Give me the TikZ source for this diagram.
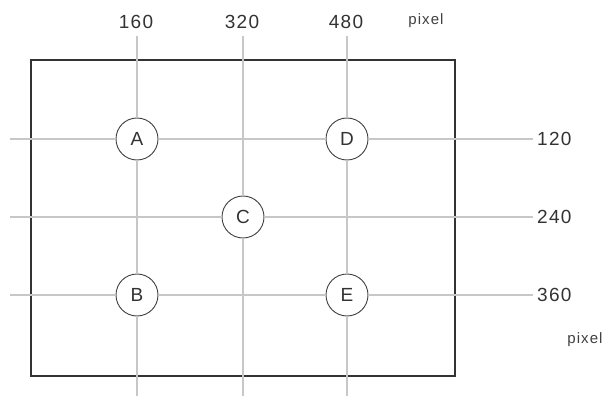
\documentclass[tikz,border=0pt]{standalone}
\usepackage{fontspec}
\setmainfont{Liberation Sans}[LetterSpace=7]
\usetikzlibrary{positioning}
\tikzset{
  grid/.style={draw=black!22, line width=1.6pt},
  spot/.style={circle, draw=black!75, line width=0.9pt, fill=white, minimum size=42pt, inner sep=0pt, text=black!80, font=\fontsize{19}{22}\selectfont},
  tick/.style={inner xsep=4pt, inner ysep=7pt, text=black!80, font=\fontsize{19}{22}\selectfont},
  unit/.style={inner sep=0pt, text=black!75, font=\fontsize{15}{18}\selectfont}
}
\begin{document}
\begin{tikzpicture}[x=1pt,y=-1pt]
\useasboundingbox (0,0) rectangle (606,396);
% the five spots
\node[spot] (A) at (137,139) {A};
\node[spot] (D) at (347,139) {D};
\node[spot] (C) at (243,217) {C};
\node[spot] (B) at (137,295) {B};
\node[spot] (E) at (347,295) {E};
% column and row labels
\node[tick] (c1) at (136,22) {160};
\node[tick] (c2) at (242,22) {320};
\node[tick] (c3) at (346,22) {480};
\node[unit] (ux) at (426,21) {pixel};
\node[tick, anchor=west] (r1) at (533,139) {120};
\node[tick, anchor=west] (r2) at (533,217) {240};
\node[tick, anchor=west] (r3) at (533,295) {360};
\node[unit] (uy) at (585,340) {pixel};
% free ends
\coordinate (b1) at (137,396);
\coordinate (b2) at (243,396);
\coordinate (b3) at (347,396);
\coordinate (l1) at (10,139);
\coordinate (l2) at (10,217);
\coordinate (l3) at (10,295);
% the frame
\draw[black!80, line width=1.2pt] (31,60) rectangle (455,376);
% grid lines
\draw[grid] (c1.south -| A) -- (A) -- (B) -- (b1);
\draw[grid] (c2.south -| C) -- (C) -- (b2);
\draw[grid] (c3.south -| D) -- (D) -- (E) -- (b3);
\draw[grid] (l1) -- (A) -- (D) -- (r1);
\draw[grid] (l2) -- (C) -- (r2);
\draw[grid] (l3) -- (B) -- (E) -- (r3);
\end{tikzpicture}
\end{document}
